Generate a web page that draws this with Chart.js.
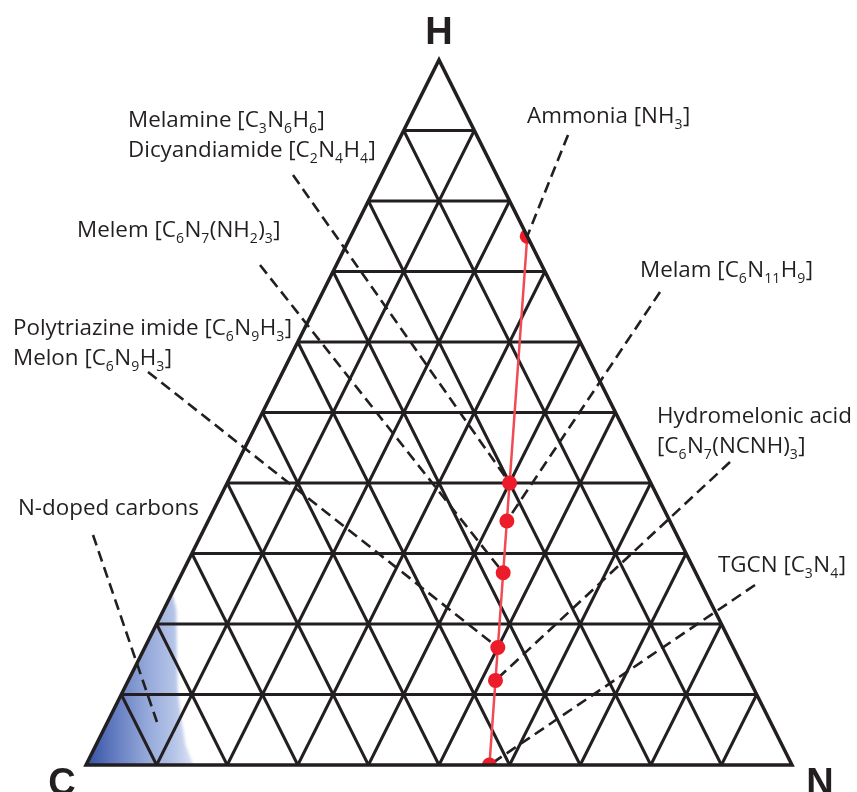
<!DOCTYPE html>
<html>
<head>
<meta charset="utf-8">
<script src="https://cdn.jsdelivr.net/npm/chart.js@4.4.1/dist/chart.umd.min.js"></script>
<style>
  html, body { margin: 0; padding: 0; background: #ffffff; }
  canvas { display: block; }
</style>
</head>
<body>
<canvas id="ternary" width="857" height="792"></canvas>
<script>
// Compounds on the C–N–H composition path (atoms per formula unit)
const compounds     = ['TGCN', 'Hydromelonic acid', 'Melon', 'Melem', 'Melam', 'Melamine', 'Ammonia'];
const carbonAtoms   = [3, 9, 6, 6, 6, 3, 0];
const nitrogenAtoms = [4, 13, 9, 10, 11, 6, 1];
const hydrogenAtoms = [0, 3, 3, 6, 9, 6, 3];

// Outline of the N-doped carbon field (N and H mole fractions, C is the rest)
const dopedN = [0, 0.152, 0.127, 0.103, 0.077, 0.047, 0.018, 0];
const dopedH = [0, 0, 0.028, 0.064, 0.106, 0.163, 0.220, 0.244];
// representative composition the N-doped carbons label points to
const dopedMarkerN = 0.070;
const dopedMarkerH = 0.061;

// Corner labels and grid spacing
const vertexLabels = ['C', 'N', 'H'];
const gridDivisions = 10;

// Annotation text ("_n" marks a subscript) and the compound each one points to
const annotationText = [
  ['Melamine [C_3N_6H_6]', 'Dicyandiamide [C_2N_4H_4]'],
  ['Ammonia [NH_3]'],
  ['Melem [C_6N_7(NH_2)_3]'],
  ['Polytriazine imide [C_6N_9H_3]', 'Melon [C_6N_9H_3]'],
  ['Melam [C_6N_11H_9]'],
  ['Hydromelonic acid', '[C_6N_7(NCNH)_3]'],
  ['TGCN [C_3N_4]'],
  ['N-doped carbons']
];
const annotationTarget = ['Melamine', 'Ammonia', 'Melem', 'Melon', 'Melam', 'Hydromelonic acid', 'TGCN', 'N-doped'];

// Page layout of the annotations: text origin (left, baseline) and leader start
const annotationLayout = [
  { x: 128, y: 127, lx: 293, ly: 175 },
  { x: 527, y: 123, lx: 568, ly: 135 },
  { x: 77,  y: 237, lx: 260, ly: 265 },
  { x: 13,  y: 335, lx: 148, ly: 372 },
  { x: 640, y: 277, lx: 660, ly: 292 },
  { x: 657, y: 423, lx: 730, ly: 462 },
  { x: 718, y: 572, lx: 755, ly: 585 },
  { x: 18,  y: 515, lx: 93,  ly: 535 }
];

const INK = '#231f20';
const TEXT_FONT = '22.4px "Open Sans", sans-serif';
const SUB_FONT = '14px "Open Sans", sans-serif';
const LINE_GAP = 30;

// Ternary (c, n, h) -> cartesian position in the triangle: C at (0,0), N at (1,0), H at (0.5,1)
function ternary(c, n, h) {
  const s = c + n + h;
  return { x: (n + h / 2) / s, y: h / s };
}

const pathPoints = compounds.map((name, i) =>
  ternary(carbonAtoms[i], nitrogenAtoms[i], hydrogenAtoms[i]));

function px(chart, p) {
  return { x: chart.scales.x.getPixelForValue(p.x), y: chart.scales.y.getPixelForValue(p.y) };
}

function trianglePath(chart, ctx) {
  const c = px(chart, ternary(1, 0, 0));
  const n = px(chart, ternary(0, 1, 0));
  const h = px(chart, ternary(0, 0, 1));
  ctx.beginPath();
  ctx.moveTo(c.x, c.y);
  ctx.lineTo(n.x, n.y);
  ctx.lineTo(h.x, h.y);
  ctx.closePath();
}

function drawRich(ctx, text, x, y) {
  const parts = text.split(/_(\d+)/);
  let cx = x;
  parts.forEach((part, i) => {
    if (!part) return;
    const sub = i % 2 === 1;
    ctx.font = sub ? SUB_FONT : TEXT_FONT;
    ctx.fillText(part, cx, sub ? y + 6 : y);
    cx += ctx.measureText(part).width + (sub ? 0.5 : 0);
  });
}

const ternaryPlugin = {
  id: 'ternaryFrame',
  beforeDatasetsDraw(chart) {
    const ctx = chart.ctx;

    // N-doped carbon field, clipped to the triangle
    ctx.save();
    trianglePath(chart, ctx);
    ctx.clip();
    const corner = px(chart, ternary(1, 0, 0));
    const far = px(chart, { x: 0.148, y: 0.0 });
    const grad = ctx.createLinearGradient(corner.x, corner.y, far.x, far.y);
    grad.addColorStop(0, '#3350a3');
    grad.addColorStop(0.3, '#6880c3');
    grad.addColorStop(0.6, '#97aadb');
    grad.addColorStop(0.85, '#b6c5e8');
    grad.addColorStop(1, '#d6dff2');
    ctx.filter = 'blur(1.5px)';
    ctx.beginPath();
    dopedN.forEach((n, i) => {
      const p = px(chart, ternary(1 - n - dopedH[i], n, dopedH[i]));
      if (i === 0) ctx.moveTo(p.x - 10, p.y + 10); else ctx.lineTo(p.x, p.y);
    });
    ctx.closePath();
    ctx.fillStyle = grad;
    ctx.fill();
    ctx.filter = 'none';
    ctx.restore();

    // grid lines at every tenth of each component
    ctx.save();
    ctx.strokeStyle = INK;
    ctx.lineWidth = 3;
    ctx.lineCap = 'butt';
    for (let i = 1; i < gridDivisions; i++) {
      const f = i / gridDivisions;
      const segs = [
        [ternary(1 - f, 0, f), ternary(0, 1 - f, f)],   // constant H
        [ternary(f, 1 - f, 0), ternary(f, 0, 1 - f)],   // constant C
        [ternary(1 - f, f, 0), ternary(0, f, 1 - f)]    // constant N
      ];
      segs.forEach(([a, b]) => {
        const pa = px(chart, a), pb = px(chart, b);
        ctx.beginPath();
        ctx.moveTo(pa.x, pa.y);
        ctx.lineTo(pb.x, pb.y);
        ctx.stroke();
      });
    }
    ctx.restore();

    // dashed leaders from each annotation to its composition
    ctx.save();
    ctx.strokeStyle = INK;
    ctx.lineWidth = 2.6;
    ctx.setLineDash([11, 6]);
    annotationLayout.forEach((lay, k) => {
      const name = annotationTarget[k];
      let target;
      if (name === 'N-doped') {
        target = ternary(1 - dopedMarkerN - dopedMarkerH, dopedMarkerN, dopedMarkerH);
      } else {
        target = pathPoints[compounds.indexOf(name)];
      }
      const t = px(chart, target);
      ctx.beginPath();
      ctx.moveTo(lay.lx, lay.ly);
      ctx.lineTo(t.x, t.y);
      ctx.stroke();
    });
    ctx.restore();
  },
  beforeDatasetDraw(chart) {
    const ctx = chart.ctx;
    ctx.save();
    trianglePath(chart, ctx);
    ctx.clip();
  },
  afterDatasetDraw(chart) {
    chart.ctx.restore();
  },
  afterDatasetsDraw(chart) {
    const ctx = chart.ctx;
    // triangle outline
    ctx.save();
    ctx.strokeStyle = INK;
    ctx.lineWidth = 3.5;
    ctx.lineJoin = 'miter';
    ctx.miterLimit = 10;
    trianglePath(chart, ctx);
    ctx.stroke();
    ctx.restore();

    // annotations
    ctx.save();
    ctx.fillStyle = INK;
    ctx.textBaseline = 'alphabetic';
    ctx.textAlign = 'left';
    annotationText.forEach((lines, k) => {
      const lay = annotationLayout[k];
      lines.forEach((line, j) => drawRich(ctx, line, lay.x, lay.y + j * LINE_GAP));
    });

    // corner letters
    ctx.font = 'bold 38px "Liberation Sans", Arial, sans-serif';
    ctx.textAlign = 'center';
    const corners = [ternary(1, 0, 0), ternary(0, 1, 0), ternary(0, 0, 1)];
    const offsets = [[-24, 30], [28, 30], [0, -16]];
    corners.forEach((c, i) => {
      const p = px(chart, c);
      ctx.fillText(vertexLabels[i], p.x + offsets[i][0], p.y + offsets[i][1]);
    });
    ctx.restore();
  }
};

new Chart(document.getElementById('ternary'), {
  type: 'scatter',
  data: {
    labels: compounds,
    datasets: [{
      label: 'C/N/H compositions',
      data: pathPoints,
      showLine: true,
      borderColor: '#f04b55',
      borderWidth: 2.5,
      pointRadius: 7.5,
      pointBackgroundColor: '#ec1c2a',
      pointBorderWidth: 0,
      tension: 0,
      clip: false
    }]
  },
  options: {
    responsive: false,
    animation: false,
    events: [],
    layout: { padding: { left: 86, right: 65, top: 60, bottom: 27 } },
    scales: {
      x: { type: 'linear', min: 0, max: 1, display: false },
      y: { type: 'linear', min: 0, max: 1, display: false }
    },
    plugins: {
      legend: { display: false },
      tooltip: { enabled: false }
    }
  },
  plugins: [ternaryPlugin]
});
</script>
</body>
</html>
